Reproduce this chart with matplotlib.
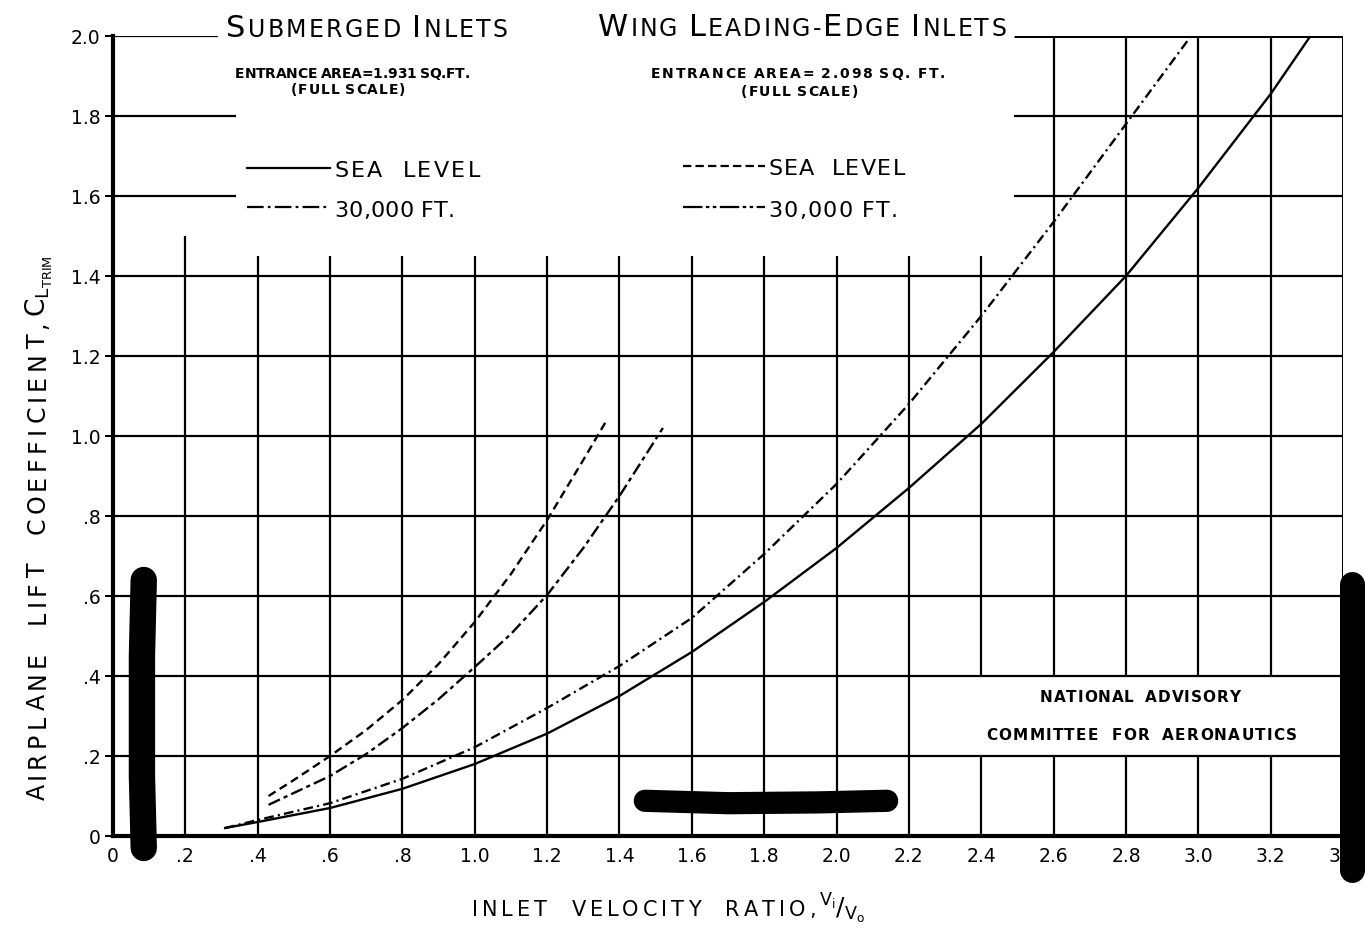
import matplotlib
matplotlib.use("Agg")
import matplotlib.pyplot as plt

plt.rcParams['font.family'] = ['DejaVu Sans']
plt.rcParams['lines.scale_dashes'] = False

# ---------------- data ----------------
# Submerged inlets, sea level (solid)
sub_sl_x = [0.31, 0.4, 0.6, 0.8, 1.0, 1.2, 1.4, 1.6, 1.8, 2.0, 2.2, 2.4, 2.6, 2.8, 3.0, 3.2, 3.31]
sub_sl_y = [0.02, 0.035, 0.07, 0.118, 0.18, 0.256, 0.35, 0.46, 0.585, 0.72, 0.87, 1.03, 1.21, 1.40, 1.62, 1.855, 2.0]
# Submerged inlets, 30,000 ft (dash-dot)
sub_30k_x = [0.31, 0.4, 0.6, 0.8, 1.0, 1.2, 1.4, 1.6, 1.8, 2.0, 2.2, 2.4, 2.6, 2.8, 2.98]
sub_30k_y = [0.02, 0.04, 0.082, 0.143, 0.222, 0.32, 0.425, 0.545, 0.705, 0.88, 1.08, 1.30, 1.535, 1.78, 2.0]
# Wing leading-edge inlets, sea level (dashed)
wing_sl_x = [0.43, 0.5, 0.6, 0.7, 0.8, 0.9, 1.0, 1.1, 1.2, 1.3, 1.365]
wing_sl_y = [0.10, 0.14, 0.20, 0.265, 0.34, 0.43, 0.535, 0.655, 0.79, 0.94, 1.04]
# Wing leading-edge inlets, 30,000 ft (long-short dash)
wing_30k_x = [0.43, 0.6, 0.7, 0.8, 0.9, 1.0, 1.1, 1.2, 1.3, 1.4, 1.52]
wing_30k_y = [0.078, 0.15, 0.205, 0.27, 0.342, 0.4225, 0.505, 0.6025, 0.72, 0.85, 1.02]

x_tick_values = [0, 0.2, 0.4, 0.6, 0.8, 1.0, 1.2, 1.4, 1.6, 1.8, 2.0, 2.2, 2.4, 2.6, 2.8, 3.0, 3.2, 3.4]
x_tick_labels = ["0", ".2", ".4", ".6", ".8", "1.0", "1.2", "1.4", "1.6", "1.8", "2.0",
                 "2.2", "2.4", "2.6", "2.8", "3.0", "3.2", "3.4"]
y_tick_values = [0, 0.2, 0.4, 0.6, 0.8, 1.0, 1.2, 1.4, 1.6, 1.8, 2.0]
y_tick_labels = ["0", ".2", ".4", ".6", ".8", "1.0", "1.2", "1.4", "1.6", "1.8", "2.0"]

# scan smudges on the original sheet
smudge_left_x = [0.085, 0.08, 0.08, 0.085]
smudge_left_y = [0.64, 0.45, 0.15, -0.03]
smudge_bottom_x = [1.47, 1.7, 1.95, 2.14]
smudge_bottom_y = [0.088, 0.082, 0.084, 0.088]
smudge_right_x = [3.425, 3.425, 3.425]
smudge_right_y = [0.63, 0.3, -0.085]

# ---------------- figure ----------------
W, H = 1365, 934
fig = plt.figure(figsize=(W / 100, H / 100), dpi=100)
ax = fig.add_axes([113 / W, 98 / H, 1230 / W, 800 / H])
ax.set_xlim(0, 3.4)
ax.set_ylim(0, 2.0)
for s in ['top', 'right']:
    ax.spines[s].set_visible(False)
ax.spines['left'].set_linewidth(3)
ax.spines['bottom'].set_linewidth(3)

ax.set_xticks(x_tick_values, x_tick_labels, fontsize=13.5)
ax.set_yticks(y_tick_values, y_tick_labels, fontsize=13.5)
ax.tick_params(axis='x', length=0, pad=8)
ax.tick_params(axis='y', length=6, width=1.5, pad=3)

glw = 1.6
# horizontal grid
for y in y_tick_values[1:-1]:
    if y < 1.5:
        ax.hlines(y, 0, 3.4, color='black', lw=glw)
    else:
        ax.hlines(y, 0, 0.34, color='black', lw=glw)
        ax.hlines(y, 2.49, 3.4, color='black', lw=glw)
ax.hlines(2.0, 0, 0.29, color='black', lw=glw)
ax.hlines(2.0, 2.49, 3.4, color='black', lw=2.2)
# vertical grid
for x in x_tick_values[1:-1]:
    if x > 2.5:
        top = 2.0
    elif x < 0.3:
        top = 1.5
    else:
        top = 1.45
    if 2.3 < x < 3.3:
        ax.vlines(x, 0, 0.2, color='black', lw=glw)
        ax.vlines(x, 0.4, top, color='black', lw=glw)
    else:
        ax.vlines(x, 0, top, color='black', lw=glw)
ax.vlines(3.4, 0, 2.0, color='black', lw=2.2)

# curves
clw = 1.7
ax.plot(sub_sl_x, sub_sl_y, color='black', lw=clw)
ax.plot(sub_30k_x, sub_30k_y, color='black', lw=clw, dashes=(7, 3, 1.5, 3))
ax.plot(wing_sl_x, wing_sl_y, color='black', lw=clw, dashes=(6, 3.5))
ax.plot(wing_30k_x, wing_30k_y, color='black', lw=clw, dashes=(9, 3, 3, 3))

# legend samples
ax.plot([0.37, 0.60], [1.67, 1.67], color='black', lw=1.6)
ax.plot([0.37, 0.60], [1.5725, 1.5725], color='black', lw=1.6, dashes=(12, 3, 2, 3))
ax.plot([1.576, 1.802], [1.675, 1.675], color='black', lw=1.6, dashes=(6, 3))
ax.plot([1.576, 1.802], [1.5725, 1.5725], color='black', lw=1.6, dashes=(14, 2.5, 2.5, 2.5, 2.5, 2.5))

# smudges
ax.plot(smudge_left_x, smudge_left_y, color='black', lw=19, solid_capstyle='round', clip_on=False)
ax.plot(smudge_bottom_x, smudge_bottom_y, color='black', lw=16, solid_capstyle='round', clip_on=False)
ax.plot(smudge_right_x, smudge_right_y, color='black', lw=18, solid_capstyle='round', clip_on=False)

# ---------------- hand-lettered text ----------------
renderer = fig.canvas.get_renderer()
inv = fig.transFigure.inverted()


def lettered(start, end, base, pieces, rotation=0, **kw):
    """Spread characters evenly between start and end (reference pixels).
    rotation=0: start/end are x, base is baseline y (from top).
    rotation=90: start/end are y (bottom->top, from top), base is baseline x."""
    items = []
    for s, size, whole in pieces:
        for ch in ([s] if whole else list(s)):
            if ch == ' ':
                items.append((None, size * 100 / 72 * 0.3))
            else:
                t = fig.text(0, 0, ch, fontsize=size, rotation=rotation, rotation_mode='anchor',
                             ha='left', va='baseline', **kw)
                bb = t.get_window_extent(renderer=renderer)
                items.append((t, bb.width if rotation == 0 else bb.height))
    total = sum(w for _, w in items)
    span = (end - start) if rotation == 0 else (start - end)
    gap = (span - total) / (len(items) - 1)
    pos = 0.0
    for t, w in items:
        if t is not None:
            if rotation == 0:
                t.set_position(inv.transform((start + pos, H - base)))
            else:
                t.set_position(inv.transform((base, H - start + pos)))
        pos += w + gap


# titles
lettered(226, 508, 37, [("S", 22, False), ("UBMERGED", 17, False), (" ", 17, False),
                        ("I", 22, False), ("NLETS", 17, False)])
lettered(598, 1006, 36, [("W", 22, False), ("ING", 17, False), (" ", 17, False),
                         ("L", 22, False), ("EADING-", 17, False), ("E", 22, False), ("DGE", 17, False),
                         (" ", 17, False), ("I", 22, False), ("NLETS", 17, False)])

# entrance area notes
lettered(235, 470, 78, [("ENTRANCE AREA=1.931 SQ.FT.", 10, False)], fontweight='bold')
lettered(291, 405, 94, [("(FULL SCALE)", 10, False)], fontweight='bold')
lettered(651, 945, 78, [("ENTRANCE AREA= 2.098 SQ. FT.", 10, False)], fontweight='bold')
lettered(741, 858, 96, [("(FULL SCALE)", 10, False)], fontweight='bold')

# legend labels
lettered(334, 480, 177, [("SEA  LEVEL", 16, False)])
lettered(334, 455, 217, [("30,000 FT.", 16, False)])
lettered(768, 905, 175, [("SEA  LEVEL", 16, False)])
lettered(768, 898, 217, [("30,000 FT.", 16, False)])

# NACA note
lettered(1040, 1240, 702, [("NATIONAL  ADVISORY", 11, False)], fontweight='bold')
lettered(986, 1297, 740, [("COMMITTEE  FOR  AERONAUTICS", 11, False)], fontweight='bold')

# axis labels
lettered(472, 866, 916, [("INLET  VELOCITY  RATIO,", 15, False),
                         (r"$\mathregular{{}^{V_i}/{}_{V_o}}$", 18, True)])
lettered(800, 255, 45, [("AIRPLANE  LIFT  COEFFICIENT,", 17, False),
                        (r"$\mathregular{C_{L_{TRIM}}}$", 19, True)], rotation=90)

fig.savefig("out.png", dpi=100)
